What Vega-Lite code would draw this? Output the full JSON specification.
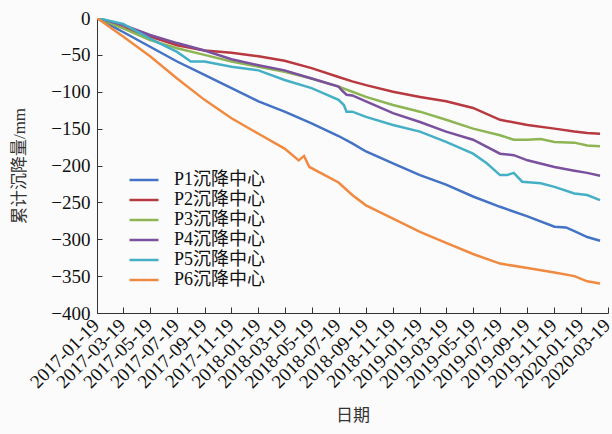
{
  "$schema": "https://vega.github.io/schema/vega-lite/v6.json",
  "width": 511,
  "height": 295,
  "autosize": "none",
  "padding": {"left": 97, "top": 18, "right": 4, "bottom": 121},
  "background": "#fbfbfb",
  "config": {
    "view": {"stroke": null},
    "font": "Liberation Serif, Noto Sans CJK SC"
  },
  "data": {
    "values": [
      {"d": "2017-01-19", "s": "P1沉降中心", "v": 0},
      {"d": "2017-03-19", "s": "P1沉降中心", "v": -19},
      {"d": "2017-05-19", "s": "P1沉降中心", "v": -39},
      {"d": "2017-07-19", "s": "P1沉降中心", "v": -59},
      {"d": "2017-09-19", "s": "P1沉降中心", "v": -77},
      {"d": "2017-11-19", "s": "P1沉降中心", "v": -95},
      {"d": "2018-01-19", "s": "P1沉降中心", "v": -113},
      {"d": "2018-03-19", "s": "P1沉降中心", "v": -127},
      {"d": "2018-05-19", "s": "P1沉降中心", "v": -143},
      {"d": "2018-07-19", "s": "P1沉降中心", "v": -160},
      {"d": "2018-08-19", "s": "P1沉降中心", "v": -170},
      {"d": "2018-09-19", "s": "P1沉降中心", "v": -181},
      {"d": "2018-11-19", "s": "P1沉降中心", "v": -197},
      {"d": "2019-01-19", "s": "P1沉降中心", "v": -213},
      {"d": "2019-03-19", "s": "P1沉降中心", "v": -226},
      {"d": "2019-05-19", "s": "P1沉降中心", "v": -242},
      {"d": "2019-07-19", "s": "P1沉降中心", "v": -256},
      {"d": "2019-09-19", "s": "P1沉降中心", "v": -269},
      {"d": "2019-11-19", "s": "P1沉降中心", "v": -283},
      {"d": "2019-12-15", "s": "P1沉降中心", "v": -284},
      {"d": "2020-01-03", "s": "P1沉降中心", "v": -289},
      {"d": "2020-02-01", "s": "P1沉降中心", "v": -297},
      {"d": "2020-03-01", "s": "P1沉降中心", "v": -302},

      {"d": "2017-01-19", "s": "P2沉降中心", "v": 0},
      {"d": "2017-03-19", "s": "P2沉降中心", "v": -13},
      {"d": "2017-05-19", "s": "P2沉降中心", "v": -25},
      {"d": "2017-07-19", "s": "P2沉降中心", "v": -37},
      {"d": "2017-09-19", "s": "P2沉降中心", "v": -44},
      {"d": "2017-11-19", "s": "P2沉降中心", "v": -47},
      {"d": "2018-01-19", "s": "P2沉降中心", "v": -52},
      {"d": "2018-03-19", "s": "P2沉降中心", "v": -58},
      {"d": "2018-05-19", "s": "P2沉降中心", "v": -68},
      {"d": "2018-07-19", "s": "P2沉降中心", "v": -80},
      {"d": "2018-08-19", "s": "P2沉降中心", "v": -86},
      {"d": "2018-09-19", "s": "P2沉降中心", "v": -91},
      {"d": "2018-11-19", "s": "P2沉降中心", "v": -100},
      {"d": "2019-01-19", "s": "P2沉降中心", "v": -107},
      {"d": "2019-03-19", "s": "P2沉降中心", "v": -113},
      {"d": "2019-05-19", "s": "P2沉降中心", "v": -122},
      {"d": "2019-07-19", "s": "P2沉降中心", "v": -138},
      {"d": "2019-09-19", "s": "P2沉降中心", "v": -145},
      {"d": "2019-11-19", "s": "P2沉降中心", "v": -150},
      {"d": "2020-01-03", "s": "P2沉降中心", "v": -154},
      {"d": "2020-02-01", "s": "P2沉降中心", "v": -156},
      {"d": "2020-03-01", "s": "P2沉降中心", "v": -157},

      {"d": "2017-01-19", "s": "P3沉降中心", "v": 0},
      {"d": "2017-03-19", "s": "P3沉降中心", "v": -14},
      {"d": "2017-05-19", "s": "P3沉降中心", "v": -30},
      {"d": "2017-07-19", "s": "P3沉降中心", "v": -41},
      {"d": "2017-09-19", "s": "P3沉降中心", "v": -50},
      {"d": "2017-11-19", "s": "P3沉降中心", "v": -59},
      {"d": "2018-01-19", "s": "P3沉降中心", "v": -66},
      {"d": "2018-03-19", "s": "P3沉降中心", "v": -73},
      {"d": "2018-05-19", "s": "P3沉降中心", "v": -82},
      {"d": "2018-07-19", "s": "P3沉降中心", "v": -93},
      {"d": "2018-08-19", "s": "P3沉降中心", "v": -100},
      {"d": "2018-09-19", "s": "P3沉降中心", "v": -107},
      {"d": "2018-11-19", "s": "P3沉降中心", "v": -118},
      {"d": "2019-01-19", "s": "P3沉降中心", "v": -127},
      {"d": "2019-03-19", "s": "P3沉降中心", "v": -138},
      {"d": "2019-05-19", "s": "P3沉降中心", "v": -150},
      {"d": "2019-07-19", "s": "P3沉降中心", "v": -159},
      {"d": "2019-08-19", "s": "P3沉降中心", "v": -165},
      {"d": "2019-09-19", "s": "P3沉降中心", "v": -165},
      {"d": "2019-10-19", "s": "P3沉降中心", "v": -164},
      {"d": "2019-11-19", "s": "P3沉降中心", "v": -168},
      {"d": "2020-01-03", "s": "P3沉降中心", "v": -169},
      {"d": "2020-02-01", "s": "P3沉降中心", "v": -173},
      {"d": "2020-03-01", "s": "P3沉降中心", "v": -174},

      {"d": "2017-01-19", "s": "P4沉降中心", "v": 0},
      {"d": "2017-03-19", "s": "P4沉降中心", "v": -9.5},
      {"d": "2017-05-19", "s": "P4沉降中心", "v": -23},
      {"d": "2017-07-19", "s": "P4沉降中心", "v": -34},
      {"d": "2017-09-19", "s": "P4沉降中心", "v": -44},
      {"d": "2017-11-19", "s": "P4沉降中心", "v": -56},
      {"d": "2018-01-19", "s": "P4沉降中心", "v": -64},
      {"d": "2018-03-19", "s": "P4沉降中心", "v": -71},
      {"d": "2018-05-19", "s": "P4沉降中心", "v": -82},
      {"d": "2018-07-19", "s": "P4沉降中心", "v": -93},
      {"d": "2018-07-28", "s": "P4沉降中心", "v": -99},
      {"d": "2018-08-06", "s": "P4沉降中心", "v": -104},
      {"d": "2018-08-19", "s": "P4沉降中心", "v": -105},
      {"d": "2018-09-19", "s": "P4沉降中心", "v": -113},
      {"d": "2018-11-19", "s": "P4沉降中心", "v": -129},
      {"d": "2019-01-19", "s": "P4沉降中心", "v": -141},
      {"d": "2019-03-19", "s": "P4沉降中心", "v": -154},
      {"d": "2019-05-19", "s": "P4沉降中心", "v": -165},
      {"d": "2019-07-19", "s": "P4沉降中心", "v": -184},
      {"d": "2019-08-19", "s": "P4沉降中心", "v": -186},
      {"d": "2019-09-19", "s": "P4沉降中心", "v": -193},
      {"d": "2019-11-19", "s": "P4沉降中心", "v": -202},
      {"d": "2020-01-03", "s": "P4沉降中心", "v": -207},
      {"d": "2020-02-01", "s": "P4沉降中心", "v": -210},
      {"d": "2020-03-01", "s": "P4沉降中心", "v": -214},

      {"d": "2017-01-19", "s": "P5沉降中心", "v": 0},
      {"d": "2017-03-19", "s": "P5沉降中心", "v": -8},
      {"d": "2017-05-19", "s": "P5沉降中心", "v": -28},
      {"d": "2017-07-19", "s": "P5沉降中心", "v": -46},
      {"d": "2017-08-19", "s": "P5沉降中心", "v": -59},
      {"d": "2017-09-19", "s": "P5沉降中心", "v": -59},
      {"d": "2017-11-19", "s": "P5沉降中心", "v": -66},
      {"d": "2018-01-19", "s": "P5沉降中心", "v": -71},
      {"d": "2018-03-19", "s": "P5沉降中心", "v": -84},
      {"d": "2018-05-19", "s": "P5沉降中心", "v": -95},
      {"d": "2018-07-19", "s": "P5沉降中心", "v": -111},
      {"d": "2018-07-31", "s": "P5沉降中心", "v": -118},
      {"d": "2018-08-06", "s": "P5沉降中心", "v": -127},
      {"d": "2018-08-19", "s": "P5沉降中心", "v": -127},
      {"d": "2018-09-19", "s": "P5沉降中心", "v": -134},
      {"d": "2018-11-19", "s": "P5沉降中心", "v": -145},
      {"d": "2019-01-19", "s": "P5沉降中心", "v": -154},
      {"d": "2019-03-19", "s": "P5沉降中心", "v": -168},
      {"d": "2019-05-19", "s": "P5沉降中心", "v": -184},
      {"d": "2019-06-19", "s": "P5沉降中心", "v": -197},
      {"d": "2019-07-19", "s": "P5沉降中心", "v": -213},
      {"d": "2019-08-04", "s": "P5沉降中心", "v": -213},
      {"d": "2019-08-19", "s": "P5沉降中心", "v": -210},
      {"d": "2019-09-07", "s": "P5沉降中心", "v": -222},
      {"d": "2019-10-19", "s": "P5沉降中心", "v": -224},
      {"d": "2019-11-19", "s": "P5沉降中心", "v": -229},
      {"d": "2020-01-03", "s": "P5沉降中心", "v": -238},
      {"d": "2020-02-01", "s": "P5沉降中心", "v": -240},
      {"d": "2020-03-01", "s": "P5沉降中心", "v": -247},

      {"d": "2017-01-19", "s": "P6沉降中心", "v": 0},
      {"d": "2017-03-19", "s": "P6沉降中心", "v": -25},
      {"d": "2017-05-19", "s": "P6沉降中心", "v": -52},
      {"d": "2017-07-19", "s": "P6沉降中心", "v": -82},
      {"d": "2017-09-19", "s": "P6沉降中心", "v": -111},
      {"d": "2017-11-19", "s": "P6沉降中心", "v": -136},
      {"d": "2018-01-19", "s": "P6沉降中心", "v": -157},
      {"d": "2018-03-19", "s": "P6沉降中心", "v": -177},
      {"d": "2018-04-20", "s": "P6沉降中心", "v": -193},
      {"d": "2018-05-02", "s": "P6沉降中心", "v": -187},
      {"d": "2018-05-14", "s": "P6沉降中心", "v": -202},
      {"d": "2018-07-19", "s": "P6沉降中心", "v": -223},
      {"d": "2018-08-19", "s": "P6沉降中心", "v": -240},
      {"d": "2018-09-19", "s": "P6沉降中心", "v": -254},
      {"d": "2018-11-19", "s": "P6沉降中心", "v": -272},
      {"d": "2019-01-19", "s": "P6沉降中心", "v": -290},
      {"d": "2019-03-19", "s": "P6沉降中心", "v": -305},
      {"d": "2019-05-19", "s": "P6沉降中心", "v": -320},
      {"d": "2019-07-19", "s": "P6沉降中心", "v": -333},
      {"d": "2019-09-19", "s": "P6沉降中心", "v": -339},
      {"d": "2019-11-19", "s": "P6沉降中心", "v": -345},
      {"d": "2020-01-03", "s": "P6沉降中心", "v": -350},
      {"d": "2020-02-01", "s": "P6沉降中心", "v": -357},
      {"d": "2020-03-01", "s": "P6沉降中心", "v": -360}
    ]
  },
  "mark": {"type": "line", "strokeWidth": 2.5, "clip": true},
  "encoding": {
    "x": {
      "field": "d",
      "type": "temporal",
      "scale": {
        "type": "utc",
        "domain": [
          {"year": 2017, "month": 1, "date": 19, "utc": true},
          {"year": 2020, "month": 3, "date": 19, "utc": true}
        ]
      },
      "axis": {
        "title": "日期",
        "titleFont": "Noto Sans CJK SC",
        "titleFontSize": 17,
        "titleFontWeight": "normal",
        "titleColor": "#333",
        "titlePadding": 16,
        "labelExpr": "utcFormat(datum.value, '%Y-%m-%d')",
        "values": [
          {"year": 2017, "month": 1, "date": 19, "utc": true},
          {"year": 2017, "month": 3, "date": 19, "utc": true},
          {"year": 2017, "month": 5, "date": 19, "utc": true},
          {"year": 2017, "month": 7, "date": 19, "utc": true},
          {"year": 2017, "month": 9, "date": 19, "utc": true},
          {"year": 2017, "month": 11, "date": 19, "utc": true},
          {"year": 2018, "month": 1, "date": 19, "utc": true},
          {"year": 2018, "month": 3, "date": 19, "utc": true},
          {"year": 2018, "month": 5, "date": 19, "utc": true},
          {"year": 2018, "month": 7, "date": 19, "utc": true},
          {"year": 2018, "month": 9, "date": 19, "utc": true},
          {"year": 2018, "month": 11, "date": 19, "utc": true},
          {"year": 2019, "month": 1, "date": 19, "utc": true},
          {"year": 2019, "month": 3, "date": 19, "utc": true},
          {"year": 2019, "month": 5, "date": 19, "utc": true},
          {"year": 2019, "month": 7, "date": 19, "utc": true},
          {"year": 2019, "month": 9, "date": 19, "utc": true},
          {"year": 2019, "month": 11, "date": 19, "utc": true},
          {"year": 2020, "month": 1, "date": 19, "utc": true},
          {"year": 2020, "month": 3, "date": 19, "utc": true}
        ],
        "labelAngle": -45,
        "labelAlign": "right",
        "labelBaseline": "alphabetic",
        "labelFont": "Liberation Serif",
        "labelFontSize": 19,
        "labelColor": "#111",
        "labelOverlap": false,
        "labelFlush": false,
        "labelPadding": 19,
        "labelOffset": 3,
        "tickSize": -6,
        "tickColor": "#333",
        "domainColor": "#333",
        "grid": false
      }
    },
    "y": {
      "field": "v",
      "type": "quantitative",
      "scale": {"domain": [-400, 0], "nice": false, "zero": false},
      "axis": {
        "title": "累计沉降量/mm",
        "titleFont": "Liberation Serif, Noto Sans CJK SC",
        "titleFontSize": 17,
        "titleFontWeight": "normal",
        "titleColor": "#333",
        "titlePadding": 22,
        "values": [0, -50, -100, -150, -200, -250, -300, -350, -400],
        "labelFont": "Liberation Serif",
        "labelFontSize": 19,
        "labelColor": "#111",
        "labelPadding": 12,
        "labelFlush": false,
        "tickSize": -5,
        "tickColor": "#333",
        "domainColor": "#333",
        "grid": false
      }
    },
    "color": {
      "field": "s",
      "type": "nominal",
      "scale": {
        "domain": ["P1沉降中心", "P2沉降中心", "P3沉降中心", "P4沉降中心", "P5沉降中心", "P6沉降中心"],
        "range": ["#4472c4", "#b8393f", "#8db553", "#7a509f", "#45afc6", "#f08a40"]
      },
      "legend": {
        "title": null,
        "orient": "none",
        "legendX": 31,
        "legendY": 152,
        "symbolType": "stroke",
        "symbolStrokeWidth": 2.5,
        "symbolSize": 841,
        "clipHeight": 20,
        "labelFont": "Liberation Serif, Noto Sans CJK SC",
        "labelFontSize": 18,
        "labelColor": "#111",
        "labelOffset": 14,
        "rowPadding": 0
      }
    }
  }
}
